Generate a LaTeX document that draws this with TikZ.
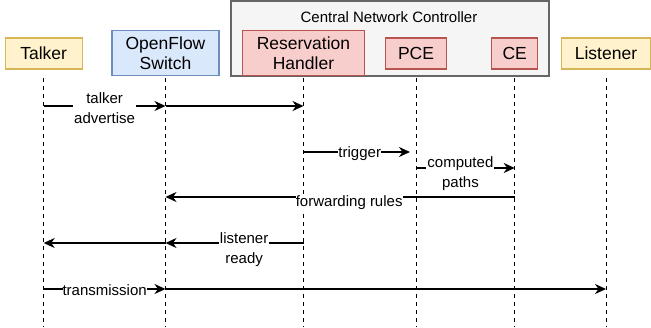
\documentclass[tikz,border=0pt]{standalone}
\usepackage{fontspec}
\setmainfont{Liberation Sans}
\usetikzlibrary{arrows.meta}
\definecolor{hostfill}{HTML}{FFF2CC}
\definecolor{hostdraw}{HTML}{D6B656}
\definecolor{swfill}{HTML}{DAE8FC}
\definecolor{swdraw}{HTML}{6C8EBF}
\definecolor{cnfill}{HTML}{F8CECC}
\definecolor{cndraw}{HTML}{B85450}
\definecolor{ctrlfill}{HTML}{F5F5F5}
\definecolor{ctrldraw}{HTML}{666666}

\begin{document}
\begin{tikzpicture}[x=1pt, y=-1pt,
  actor/.style={draw, line width=1.1pt, align=center, inner sep=0pt, font=\fontsize{17.5}{20.5}\selectfont},
  host/.style={actor, fill=hostfill, draw=hostdraw, minimum height=31pt},
  switchbox/.style={actor, fill=swfill, draw=swdraw, minimum height=45pt},
  ctrlpart/.style={actor, fill=cnfill, draw=cndraw},
  lifeline/.style={line width=0.9pt, dash pattern=on 4pt off 4pt},
  msg/.style={line width=1.4pt, -{Stealth[length=11pt, width=10pt, inset=3.5pt]}},
  msglabel/.style={fill=white, inner sep=1pt, align=center, font=\fontsize{15}{20}\selectfont},
]
\useasboundingbox (0,0) rectangle (651,327);

% ---------- controller frame ----------
\node[draw=ctrldraw, fill=ctrlfill, line width=1.1pt, minimum width=318pt, minimum height=75pt] (cnc) at (390,38.5) {};
\node[font=\fontsize{15}{18}\selectfont] (cnclabel) at (389,17) {Central Network Controller};

% ---------- participants ----------
\node[host, minimum width=77pt] (talker) at (43.7,53.5) {Talker};
\node[switchbox, minimum width=107pt] (switch) at (165.5,53.3) {OpenFlow\\Switch};
\node[ctrlpart, minimum width=121.5pt, minimum height=45pt] (resv) at (303.5,53.3) {Reservation\\Handler};
\node[ctrlpart, minimum width=61pt, minimum height=31pt] (pce) at (416,53.5) {PCE};
\node[ctrlpart, minimum width=46pt, minimum height=31pt] (ce) at (514.7,53.5) {CE};
\node[host, minimum width=89pt] (listener) at (606,53.5) {Listener};

% ---------- lifelines ----------
\coordinate (top) at (0,78);
\coordinate (bot) at (0,327);
\foreach \p in {talker,switch,resv,pce,ce,listener}
  \draw[lifeline] (\p |- top) -- (\p |- bot);

% ---------- message levels ----------
\coordinate (m1) at (0,106);
\coordinate (m2) at (0,152);
\coordinate (m3) at (0,168);
\coordinate (m4) at (0,197);
\coordinate (m5) at (0,243);
\coordinate (m6) at (0,289);

% ---------- messages ----------
\draw[msg] (talker |- m1) -- node[msglabel, yshift=-2pt] {talker\\advertise} (switch |- m1);
\draw[msg] (switch |- m1) -- (resv |- m1);
\draw[msg, shorten >=6pt] (resv |- m2) -- node[msglabel, inner sep=0pt, yshift=-1.5pt] {trigger} (pce |- m2);
\draw[msg] (pce |- m3) -- node[msglabel, pos=0.45, yshift=-5.5pt] {computed\\paths} (ce |- m3);
\draw[msg] (ce |- m4) -- node[msglabel, pos=0.474, yshift=-6pt, inner sep=0pt] {forwarding rules} (switch |- m4);
\draw[msg] (resv |- m5) -- node[msglabel, pos=0.43, yshift=-7pt] {listener\\ready} (switch |- m5);
\draw[msg] (switch |- m5) -- (talker |- m5);
\draw[msg] (talker |- m6) -- node[msglabel, inner sep=0pt, yshift=-1pt] {transmission} (switch |- m6);
\draw[msg] (switch |- m6) -- (listener |- m6);

\end{tikzpicture}
\end{document}
